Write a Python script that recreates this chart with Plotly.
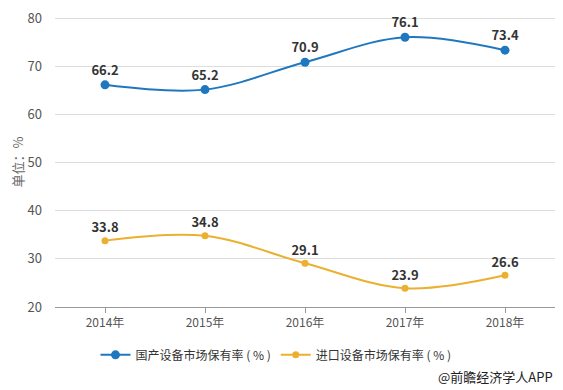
import plotly.graph_objects as go

years = ["2014年", "2015年", "2016年", "2017年", "2018年"]
domestic = [66.2, 65.2, 70.9, 76.1, 73.4]
imported = [33.8, 34.8, 29.1, 23.9, 26.6]
y_ticks = [20, 30, 40, 50, 60, 70, 80]

FONT = "Noto Sans CJK SC"
BLUE = "#1f78bf"
ORANGE = "#ebb02f"

fig = go.Figure()
fig.add_trace(go.Scatter(
    x=years, y=domestic, name="国产设备市场保有率 ( % )",
    mode="lines+markers+text", line=dict(color=BLUE, width=2, shape="spline", smoothing=1),
    marker=dict(size=9, color=BLUE),
    text=[f"{v:.1f}" for v in domestic], textposition="top center",
    textfont=dict(family=FONT, size=13, color="#333333", weight="bold"),
    cliponaxis=False,
))
fig.add_trace(go.Scatter(
    x=years, y=imported, name="进口设备市场保有率 ( % )",
    mode="lines+markers+text", line=dict(color=ORANGE, width=2, shape="spline", smoothing=1),
    marker=dict(size=7, color=ORANGE),
    text=[f"{v:.1f}" for v in imported], textposition="top center",
    textfont=dict(family=FONT, size=13, color="#333333", weight="bold"),
    cliponaxis=False,
))

fig.update_layout(
    width=555, height=382,
    margin=dict(l=47, r=8, t=9, b=83, autoexpand=False),
    paper_bgcolor="white", plot_bgcolor="white",
    font=dict(family=FONT, size=12, color="#555555"),
    showlegend=True,
    legend=dict(orientation="h", x=0.442, xanchor="center", yref="container",
                y=0.092, yanchor="middle",
                font=dict(size=12, color="#333333"), itemwidth=30),
    annotations=[dict(text="@前瞻经济学人APP", xref="paper", yref="paper",
                      x=1.0, y=-0.24, xanchor="right", yanchor="middle", showarrow=False,
                      font=dict(size=13, color="#222222"))],
)
fig.update_xaxes(
    showgrid=False, showline=True, linecolor="#999999", ticks="outside",
    ticklen=5, tickcolor="#999999", tickfont=dict(size=12, color="#555555"),
    range=[-0.5, 4.5],
)
fig.update_yaxes(
    range=[20, 80.3], tickvals=y_ticks, showgrid=True, gridcolor="#dddddd",
    zeroline=False, showline=False, tickfont=dict(size=13, color="#555555"),
    ticklabeloverflow="allow",
    title=dict(text="单位：%", font=dict(size=13, color="#666666"), standoff=4),
    ticklabelstandoff=12,
)
fig.write_html("out.html")
